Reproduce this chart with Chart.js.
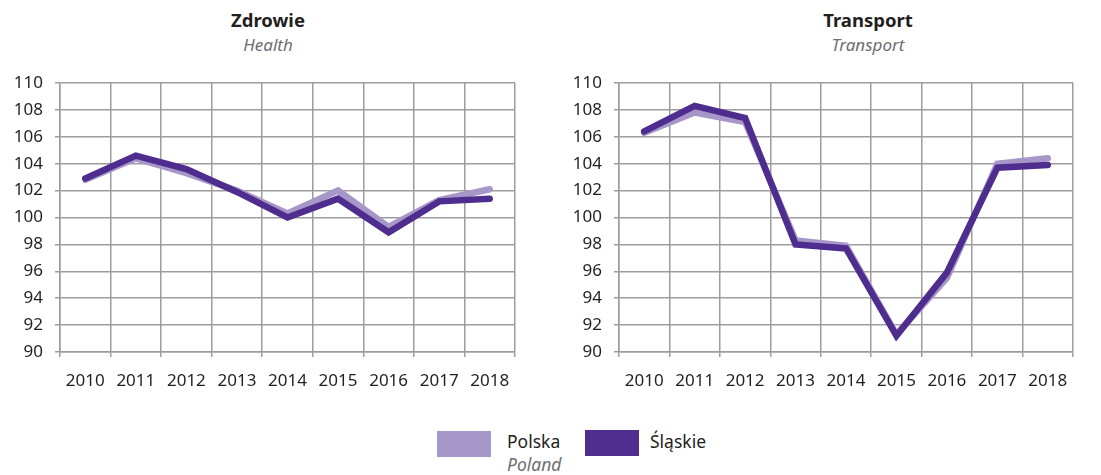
<!DOCTYPE html>
<html lang="pl">
<head>
<meta charset="UTF-8">
<title>Zdrowie i transport</title>
<script src="https://cdn.jsdelivr.net/npm/chart.js"></script>
<style>
  body { margin: 0; background: #fff; font-family: "Noto Sans", sans-serif; color: #231f20; }
  #wrap { position: relative; width: 1101px; height: 475px; }
  .box { position: absolute; top: 0; width: 550px; height: 400px; }
  .ttl { position: absolute; text-align: center; width: 300px; }
  .ttl b { display: block; font-size: 18.5px; line-height: 22px; }
  .ttl i { display: block; font-size: 17px; line-height: 22px; color: #6d6e71; margin-top: 3px; }
  .legend { position: absolute; top: 430px; font-size: 17.5px; line-height: 23px; }
  .sw { position: absolute; width: 54px; height: 26px; }
</style>
</head>
<body>
<div id="wrap">
  <div class="ttl" style="left:118px; top:9px;"><b>Zdrowie</b><i>Health</i></div>
  <div class="ttl" style="left:718px; top:9px;"><b>Transport</b><i>Transport</i></div>
  <div class="box" style="left:0;"><canvas id="zdrowie" width="550" height="400"></canvas></div>
  <div class="box" style="left:550px; width:551px;"><canvas id="transport" width="551" height="400"></canvas></div>

  <div class="sw" style="left:437px; top:431px; background:#a797c9;"></div>
  <div class="legend" style="left:507px; top:430px;">Polska<br><i style="color:#6d6e71;">Poland</i></div>
  <div class="sw" style="left:585px; top:430px; background:#4f2d8f;"></div>
  <div class="legend" style="left:650px; top:430px;">Śląskie</div>
</div>

<script>
const years = ['2010', '2011', '2012', '2013', '2014', '2015', '2016', '2017', '2018'];

// Zdrowie / Health
const zdrowiePolska = [102.8, 104.4, 103.3, 102.0, 100.3, 102.0, 99.3, 101.3, 102.1];
const zdrowieSlaskie = [102.9, 104.6, 103.6, 101.9, 100.0, 101.4, 98.9, 101.2, 101.4];

// Transport
const transportPolska = [106.3, 107.8, 107.1, 98.3, 97.9, 91.3, 95.5, 104.0, 104.4];
const transportSlaskie = [106.4, 108.3, 107.4, 98.0, 97.7, 91.2, 95.9, 103.7, 103.9];

const gridColor = '#9d9d9d';
const font = { family: 'Noto Sans', size: 17 };

function makeChart(id, polska, slaskie, yWidth, padRight) {
    return new Chart(document.getElementById(id), {
        type: 'line',
        data: {
            labels: years,
            datasets: [{
                label: 'Śląskie',
                data: slaskie,
                borderColor: '#4f2d8f',
                borderWidth: 6.5
            }, {
                label: 'Polska',
                data: polska,
                borderColor: '#a797c9',
                borderWidth: 6.5
            }]
        },
        options: {
            responsive: false,
            animation: false,
            layout: { padding: { top: 83, right: padRight, bottom: 0, left: 0 } },
            elements: {
                line: { tension: 0, borderCapStyle: 'round', borderJoinStyle: 'miter' },
                point: { radius: 0 }
            },
            plugins: { legend: { display: false }, tooltip: { enabled: false } },
            scales: {
                x: {
                    offset: true,
                    grid: { offset: true, color: gridColor, lineWidth: 1.5, tickLength: 5 },
                    border: { color: gridColor, width: 1.5 },
                    ticks: { color: '#231f20', font: font, padding: 14, maxRotation: 0 },
                    afterFit: s => { s.height = 48; }
                },
                y: {
                    min: 90, max: 110,
                    grid: { color: gridColor, lineWidth: 1.5, tickLength: 5 },
                    border: { color: gridColor, width: 1.5 },
                    ticks: { stepSize: 2, color: '#231f20', font: font, padding: 12 },
                    afterFit: s => { s.width = yWidth; }
                }
            }
        }
    });
}

makeChart('zdrowie', zdrowiePolska, zdrowieSlaskie, 60, 35);
makeChart('transport', transportPolska, transportSlaskie, 69, 28);
</script>
</body>
</html>
